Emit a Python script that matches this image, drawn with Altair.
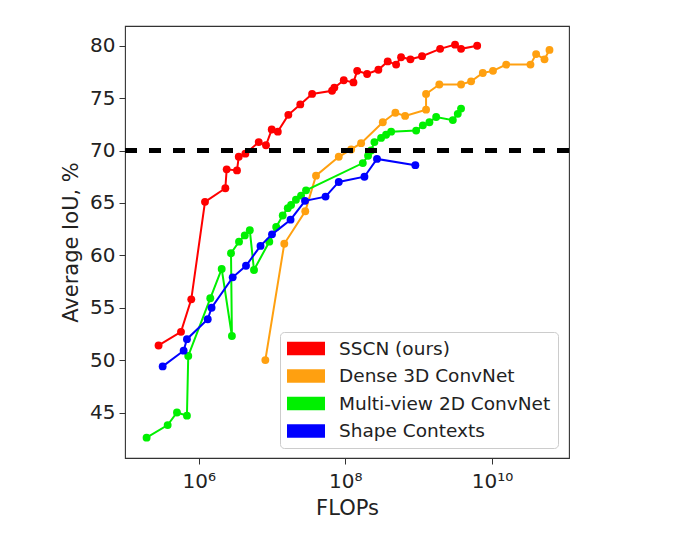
import altair as alt
import pandas as pd

series_names = ["SSCN (ours)", "Dense 3D ConvNet", "Multi-view 2D ConvNet", "Shape Contexts"]
series_colors = ["#ff0000", "#ffa010", "#00f000", "#0000ff"]

sscn_flops = [2.84e5, 5.74e5, 7.93e5, 1.22e6, 2.31e6, 2.41e6, 3.33e6, 3.52e6, 4.33e6, 6.59e6,
              8.28e6, 9.91e6, 1.20e7, 1.67e7, 2.43e7, 3.52e7, 6.59e7, 7.08e7, 9.51e7, 1.29e8,
              1.45e8, 1.98e8, 2.82e8, 3.78e8, 4.92e8, 5.75e8, 7.71e8, 1.11e9, 1.96e9, 3.13e9,
              3.78e9, 6.27e9]
sscn_iou = [51.4, 52.7, 55.8, 65.1, 66.4, 68.2, 68.1, 69.4, 69.7, 70.8,
            70.5, 72.0, 71.8, 73.4, 74.4, 75.4, 75.7, 76.0, 76.7, 76.5,
            77.6, 77.3, 77.7, 78.5, 78.2, 78.9, 78.7, 79.0, 79.7, 80.1,
            79.7, 80.0]

dense_flops = [8.11e6, 1.47e7, 2.84e7, 3.98e7, 8.13e7, 1.20e8, 1.64e8, 3.24e8, 4.81e8, 6.53e8,
               1.26e9, 1.26e9, 1.91e9, 3.78e9, 5.18e9, 7.48e9, 1.03e10, 1.56e10, 3.34e10, 3.99e10,
               5.19e10, 6.07e10]
dense_iou = [50.0, 61.1, 64.2, 67.6, 69.4, 70.1, 70.7, 72.7, 73.6, 73.3,
             73.9, 75.4, 76.3, 76.3, 76.6, 77.4, 77.6, 78.2, 78.2, 79.2,
             78.7, 79.6]

mv_flops = [1.95e5, 3.78e5, 5.06e5, 6.92e5, 7.21e5, 1.44e6, 2.06e6, 2.84e6, 2.76e6, 3.55e6,
            4.25e6, 4.98e6, 5.68e6, 9.18e6, 1.14e7, 1.40e7, 1.64e7, 1.82e7, 2.12e7, 2.49e7,
            2.91e7, 1.73e8, 2.04e8, 2.24e8, 2.49e8, 3.07e8, 3.59e8, 4.21e8, 9.23e8, 1.14e9,
            1.40e9, 1.73e9, 2.92e9, 3.41e9, 3.78e9]
mv_iou = [42.6, 43.8, 45.0, 44.7, 50.4, 55.9, 58.7, 52.3, 60.2, 61.3,
          61.9, 62.4, 58.6, 61.3, 62.7, 63.8, 64.5, 64.8, 65.3, 65.7,
          66.2, 68.8, 69.5, 70.0, 70.8, 71.2, 71.5, 71.8, 71.9, 72.4,
          72.7, 73.2, 72.9, 73.5, 74.0]

sc_flops = [3.23e5, 6.24e5, 6.92e5, 1.33e6, 1.50e6, 2.91e6, 4.42e6, 6.97e6, 1.00e7, 1.79e7,
            2.82e7, 5.37e7, 8.13e7, 1.82e8, 2.70e8, 9.00e8]
sc_iou = [49.4, 50.9, 52.0, 53.9, 55.0, 57.9, 59.0, 60.9, 62.0, 63.4,
          65.2, 65.6, 67.0, 67.5, 69.2, 68.6]

threshold = [70]
x_ticks = [1e6, 1e8, 1e10]
y_ticks = [45, 50, 55, 60, 65, 70, 75, 80]

FONT = "DejaVu Sans"

all_data = [(sscn_flops, sscn_iou), (dense_flops, dense_iou), (mv_flops, mv_iou), (sc_flops, sc_iou)]

color_scale = alt.Scale(domain=series_names, range=series_colors)
x_enc = alt.X("flops:Q",
              scale=alt.Scale(type="log", domain=[9.9e4, 1.12e11], nice=False),
              axis=alt.Axis(values=x_ticks,
                            labelExpr="datum.value < 1e7 ? '10⁶' : datum.value < 1e9 ? '10⁸' : '10¹⁰'",
                            title="FLOPs", grid=False, domain=False, tickSize=6,
                            labelPadding=7, titlePadding=6, labelFontSize=20,
                            titleFontSize=21, titleFontWeight="normal", labelFont=FONT,
                            titleFont=FONT, labelColor="#222", titleColor="#222",
                            tickColor="#333", labelFlush=False))
y_enc = alt.Y("iou:Q",
              scale=alt.Scale(domain=[40.66, 81.88], nice=False, zero=False),
              axis=alt.Axis(values=y_ticks, title="Average IoU, %", grid=False, domain=False,
                            tickSize=6, labelPadding=4, titlePadding=8, labelFontSize=20,
                            titleFontSize=21, titleFontWeight="normal", labelFont=FONT,
                            titleFont=FONT, labelColor="#222", titleColor="#222",
                            tickColor="#333"))

legend = alt.Legend(title=None, orient="none", legendX=155, legendY=306,
                    symbolType="M-1,-0.7H3V0.7H-1Z", symbolSize=361, symbolStrokeWidth=0,
                    symbolOpacity=1, labelFontSize=18.5, labelFont=FONT, labelColor="#222",
                    labelLimit=400, labelOffset=33, rowPadding=8.5, padding=7,
                    fillColor="white", strokeColor="#cccccc", cornerRadius=4)

layers = []
for k, (name, (xs, ys)) in enumerate(zip(series_names, all_data)):
    df = pd.DataFrame({"flops": xs, "iou": ys, "idx": list(range(len(xs))), "series": name})
    base = alt.Chart(df)
    line = base.mark_line(strokeWidth=2).encode(
        x=x_enc, y=y_enc, order=alt.Order("idx:Q"),
        color=alt.Color("series:N", scale=color_scale, legend=None))
    pts = base.mark_circle(size=62, opacity=1).encode(
        x=x_enc, y=y_enc,
        color=alt.Color("series:N", scale=color_scale, legend=legend if k == 0 else None))
    if k == 0:
        layers += [pts, line]
    else:
        layers += [line, pts]

rule = alt.Chart(pd.DataFrame({"iou": threshold})).mark_rule(
    color="black", strokeWidth=5, strokeDash=[12, 12]).encode(y=alt.Y("iou:Q"))
layers.append(rule)

chart = alt.layer(*layers).properties(
    width=444, height=432, background="white",
    padding={"left": 52, "top": 18, "right": 5, "bottom": 5}
).configure_view(stroke="#333", strokeWidth=1.1)

chart.save("out.html", embed_options={"renderer": "svg", "actions": False})
